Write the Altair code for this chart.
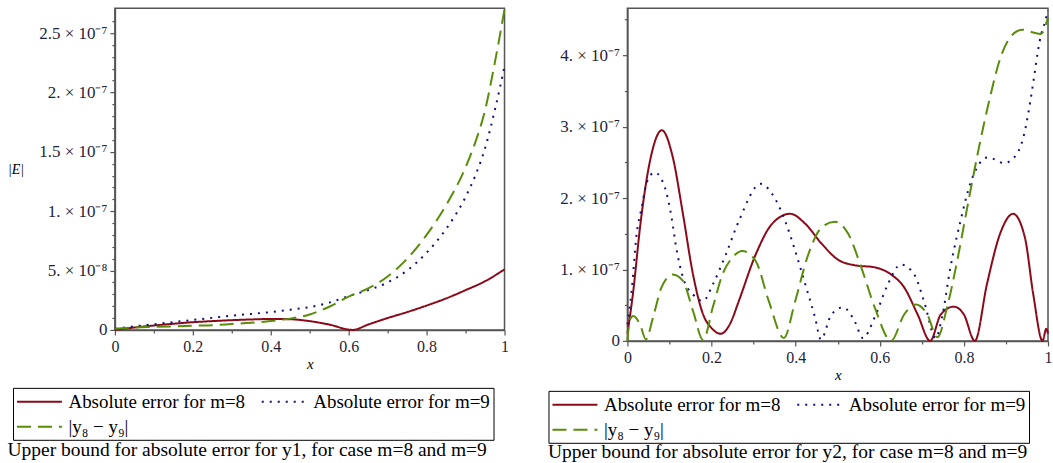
import json
import altair as alt
import pandas as pd

NAMES = ["Absolute error for m=8", "Absolute error for m=9", "|y₈ − y₉|"]
COLORS = ["#8b0a1a", "#10107a", "#5a8c0a"]
DASHES = [[1, 0], [2, 6], [14, 7]]

# ---------------- left panel (y1), values in units of 1e-8 ----------------
L_RED_X = [0, 0.05, 0.1, 0.15, 0.2, 0.25, 0.3, 0.35, 0.4, 0.45, 0.5, 0.55, 0.61,
           0.65, 0.7, 0.75, 0.8, 0.85, 0.9, 0.95, 1.0]
L_RED_Y = [0, 0.2, 0.37, 0.52, 0.65, 0.74, 0.82, 0.88, 0.92, 0.9, 0.74, 0.45, 0,
           0.45, 1.0, 1.5, 2.05, 2.65, 3.35, 4.1, 5.1]

L_X = [0, 0.05, 0.1, 0.15, 0.2, 0.25, 0.3, 0.35, 0.4, 0.45, 0.5, 0.55, 0.6, 0.65,
       0.7, 0.75, 0.8, 0.85, 0.9, 0.925, 0.95, 0.975, 1.0]
L_BLUE_Y = [0.1, 0.3, 0.48, 0.66, 0.84, 1.02, 1.2, 1.35, 1.5, 1.7, 1.92, 2.3, 2.85,
            3.35, 4.0, 5.0, 6.5, 8.5, 11.2, 13.0, 15.3, 18.5, 22.2]
L_GREEN_Y = [0.1, 0.2, 0.25, 0.3, 0.35, 0.4, 0.5, 0.6, 0.75, 0.95, 1.3, 1.95, 2.8,
             3.5, 4.5, 6.0, 8.0, 10.5, 13.7, 15.8, 18.5, 22.5, 27.0]

# ---------------- right panel (y2), values in units of 1e-7 ----------------
R_RED_X = [0, 0.014, 0.03, 0.053, 0.082, 0.108, 0.132, 0.156, 0.18, 0.2, 0.222, 0.245,
           0.265, 0.305, 0.344, 0.387, 0.423, 0.462, 0.5, 0.54, 0.588, 0.627, 0.658,
           0.69, 0.72, 0.745, 0.776, 0.8, 0.826, 0.855, 0.886, 0.917, 0.945, 0.965,
           0.987, 0.996, 1.0]
R_RED_Y = [0.1, 0.7, 1.59, 2.5, 2.95, 2.57, 1.78, 0.93, 0.37, 0.18, 0.1, 0.25,
           0.56, 1.21, 1.64, 1.78, 1.64, 1.36, 1.14, 1.06, 1.03, 0.93, 0.75,
           0.37, 0.0, 0.37, 0.48, 0.37, 0.0, 0.8, 1.5, 1.78, 1.45, 0.65,
           0.0, 0.17, 0.1]

R_BLUE_X = [0, 0.01, 0.022, 0.034, 0.046, 0.065, 0.089, 0.105, 0.116, 0.132, 0.156,
            0.18, 0.203, 0.234, 0.265, 0.317, 0.344, 0.375, 0.399, 0.423, 0.446, 0.46,
            0.485, 0.513, 0.54, 0.56, 0.588, 0.619, 0.65, 0.682, 0.705, 0.733, 0.748,
            0.768, 0.792, 0.815, 0.839, 0.856, 0.87, 0.895, 0.925, 0.945, 0.958,
            0.968, 0.976, 0.984, 0.99, 1.0]
R_BLUE_Y = [0.23, 0.7, 1.5, 1.87, 2.22, 2.36, 2.15, 1.73, 1.31, 0.89, 0.65,
            0.56, 0.79, 1.21, 1.68, 2.2, 2.06, 1.68, 1.26, 0.79, 0.33, 0.02,
            0.37, 0.47, 0.28, 0.04, 0.33, 0.79, 1.07, 0.93, 0.56, 0.04, 0.33,
            1.03, 1.68, 2.2, 2.5, 2.57, 2.55, 2.49, 2.61, 2.94, 3.36,
            3.74, 4.06, 4.3, 4.41, 4.63]

R_GREEN_X = [0, 0.006, 0.014, 0.03, 0.044, 0.061, 0.081, 0.108, 0.132, 0.156, 0.18,
             0.203, 0.226, 0.25, 0.273, 0.305, 0.336, 0.372, 0.399, 0.43, 0.462, 0.493,
             0.525, 0.556, 0.588, 0.627, 0.658, 0.686, 0.713, 0.737, 0.76, 0.784,
             0.808, 0.839, 0.862, 0.886, 0.91, 0.939, 0.965, 0.983, 1.0]
R_GREEN_Y = [0.0, 0.3, 0.35, 0.23, 0.02, 0.33, 0.75, 0.93, 0.84, 0.42, 0.01,
             0.47, 0.93, 1.17, 1.26, 1.12, 0.56, 0.04, 0.56, 1.21, 1.59, 1.67,
             1.5, 1.03, 0.47, 0.0, 0.37, 0.51, 0.37, 0.05, 0.47, 1.12,
             1.87, 2.8, 3.41, 3.95, 4.25, 4.36, 4.32, 4.30, 4.53]

# ---------------- ticks ----------------
X_TICKS = [0, 0.1, 0.2, 0.3, 0.4, 0.5, 0.6, 0.7, 0.8, 0.9, 1.0]
LY_MAJOR = [0, 5e-8, 1e-7, 1.5e-7, 2e-7, 2.5e-7]
LY_LABELS = ["0", "5. × 10⁻⁸", "1. × 10⁻⁷", "1.5 × 10⁻⁷", "2. × 10⁻⁷", "2.5 × 10⁻⁷"]
LY_TICKS = [i * 1e-8 for i in range(27)]
RY_MAJOR = [0, 1e-7, 2e-7, 3e-7, 4e-7]
RY_LABELS = ["0", "1. × 10⁻⁷", "2. × 10⁻⁷", "3. × 10⁻⁷", "4. × 10⁻⁷"]
RY_TICKS = [i * 0.5e-7 for i in range(10)]

CAPTION_L = "Upper bound for absolute error for y1, for case m=8 and m=9"
CAPTION_R = "Upper bound for absolute error for y2, for case m=8 and m=9"

FONT = "Liberation Serif"
LABEL_COLOR = "#1f1f3a"


def frame(xs_list, ys_list, unit):
    rows = []
    for name, xs, ys in zip(NAMES, xs_list, ys_list):
        for x, y in zip(xs, ys):
            rows.append({"x": x, "y": y * unit, "s": name})
    return pd.DataFrame(rows)


def y_axis(major, labels, ticks, mult, title, title_pad):
    keys = [int(round(v * mult)) for v in major]
    idx = f"indexof({json.dumps(keys)}, round(datum.value*{mult:g}))"
    expr = f"{idx} >= 0 ? {json.dumps(labels, ensure_ascii=False)}[{idx}] : ''"
    kw = dict(
        values=ticks, labelExpr=expr, labelOverlap=False, grid=False,
        tickSize={"condition": {"test": f"{idx} < 0", "value": 3}, "value": 5},
        labelPadding=3, labelFont=FONT, labelFontSize=17, labelColor=LABEL_COLOR,
    )
    if title:
        kw.update(title=title, titleAngle=0, titleBaseline="middle", titleAlign="right",
                  titleFont=FONT, titleFontSize=14, titleFontStyle="italic",
                  titleFontWeight="normal", titleColor="black", titlePadding=title_pad)
    else:
        kw.update(title=None)
    return alt.Axis(**kw)


x_axis = alt.Axis(
    values=X_TICKS,
    labelExpr="round(datum.value*10) % 2 == 0 ? format(datum.value, '~g') : ''",
    tickSize={"condition": {"test": "round(datum.value*10) % 2 != 0", "value": 3}, "value": 5},
    labelFlush=False, labelOverlap=False, grid=False, labelPadding=4,
    labelFont=FONT, labelFontSize=16, labelColor=LABEL_COLOR,
    title="x", titleFont=FONT, titleFontSize=15, titleFontStyle="italic",
    titleFontWeight="normal", titleColor="black", titlePadding=2,
)


def panel(df, ymax, yaxis, w, h, lx, ly, caption, cap_off):
    legend = alt.Legend(
        title=None, orient="none", legendX=lx, legendY=ly, columns=2, direction="horizontal",
        symbolType="M-2.25,0H2.25", symbolSize=400, symbolStrokeWidth=2, symbolOffset=12.5,
        labelFont=FONT, labelFontSize=19, labelColor="black", labelLimit=400,
        labelOffset=18, strokeColor="black", padding=3, columnPadding=12, rowPadding=4,
    )
    return alt.Chart(df).mark_line(strokeWidth=2, interpolate="monotone").encode(
        x=alt.X("x:Q", scale=alt.Scale(domain=[0, 1], nice=False), axis=x_axis),
        y=alt.Y("y:Q", scale=alt.Scale(domain=[0, ymax], nice=False), axis=yaxis),
        color=alt.Color("s:N", scale=alt.Scale(domain=NAMES, range=COLORS), legend=legend),
        strokeDash=alt.StrokeDash("s:N", scale=alt.Scale(domain=NAMES, range=DASHES), legend=legend),
        order=alt.Order("x:Q"),
    ).properties(
        width=w, height=h,
        title=alt.TitleParams(text=caption, orient="bottom", anchor="start", font=FONT,
                              fontSize=19.5, fontWeight="normal", color="black", offset=cap_off),
    )


left_df = frame([L_RED_X, L_X, L_X], [L_RED_Y, L_BLUE_Y, L_GREEN_Y], 1e-8)
right_df = frame([R_RED_X, R_BLUE_X, R_GREEN_X], [R_RED_Y, R_BLUE_Y, R_GREEN_Y], 1e-7)

left = panel(left_df, 2.71e-7, y_axis(LY_MAJOR, LY_LABELS, LY_TICKS, 1e9, "|E|", 15),
             390, 322, -102, 380, CAPTION_L, 1)
right = panel(right_df, 4.66e-7, y_axis(RY_MAJOR, RY_LABELS, RY_TICKS, 1e8, None, 0),
              421, 333, -79, 383, CAPTION_R, 0)

chart = alt.hconcat(left, right, spacing=37).properties(
    padding={"left": 6, "top": 4, "right": 0, "bottom": 0},
    background="white",
).configure_view(
    stroke="#555", strokeWidth=1.5,
).configure_axis(
    domainColor="#555", domainWidth=1.5, tickColor="#555", tickWidth=1.2,
).resolve_scale(color="independent", strokeDash="independent")

chart.save("out.html", embed_options={"renderer": "svg", "actions": False})
